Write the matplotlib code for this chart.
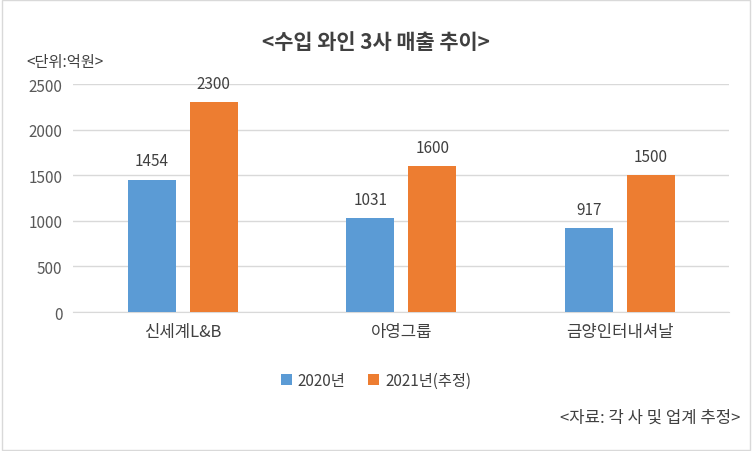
import matplotlib
matplotlib.use("Agg")
import matplotlib.pyplot as plt
from matplotlib.patches import Rectangle

plt.rcParams['font.family'] = ['Noto Sans CJK KR', 'Noto Sans CJK JP', 'Noto Sans CJK SC', 'DejaVu Sans']

categories = ["신세계L&B", "아영그룹", "금양인터내셔날"]
s2020 = [1454, 1031, 917]
s2021 = [2300, 1600, 1500]
series_names = ["2020년", "2021년(추정)"]
yticks = [0, 500, 1000, 1500, 2000, 2500]

fig = plt.figure(figsize=(7.52, 4.52), dpi=100)
fig.patches.append(Rectangle((0.002, 0.002), 0.996, 0.996, transform=fig.transFigure,
                             fill=False, edgecolor='#d9d9d9', linewidth=1))
ax = fig.add_axes([0.0977, 0.3075, 0.872, 0.504])
x = range(len(categories))
w = 0.22
b1 = ax.bar([i - 0.142 for i in x], s2020, w, color='#5B9BD5', label=series_names[0], zorder=3)
b2 = ax.bar([i + 0.142 for i in x], s2021, w, color='#ED7D31', label=series_names[1], zorder=3)
for bars in (b1, b2):
    for r in bars:
        ax.text(r.get_x() + r.get_width() / 2, r.get_height() + 110, f"{int(r.get_height())}",
                ha='center', va='bottom', fontsize=11, color='#404040')
ax.set_xlim(-0.5, 2.5)
ax.set_ylim(0, 2500)
ax.set_yticks(yticks)
ax.set_yticklabels([str(t) for t in yticks], fontsize=11, color='#595959')
ax.set_xticks(list(x))
ax.set_xticklabels(categories, fontsize=12, color='#404040')
ax.tick_params(length=0, pad=8)
ax.grid(axis='y', color='#d9d9d9', linewidth=1, zorder=0)
for s in ['top', 'right', 'left']:
    ax.spines[s].set_visible(False)
ax.spines['bottom'].set_color('#d9d9d9')

fig.text(0.5, 0.905, "<수입 와인 3사 매출 추이>", ha='center', va='center',
         fontsize=15, fontweight='bold', color='#404040')
fig.text(0.035, 0.862, "<단위:억원>", ha='left', va='center', fontsize=11, color='#404040')
fig.legend(handles=[b1, b2], loc='center', bbox_to_anchor=(0.5, 0.157), ncol=2,
           frameon=False, fontsize=11, handlelength=0.7, handleheight=0.7, columnspacing=1.5,
           handletextpad=0.4, labelcolor='#404040')
fig.text(0.985, 0.075, "<자료: 각 사 및 업계 추정>", ha='right', va='center', fontsize=12, color='#404040')
fig.savefig("out.png", dpi=100)
